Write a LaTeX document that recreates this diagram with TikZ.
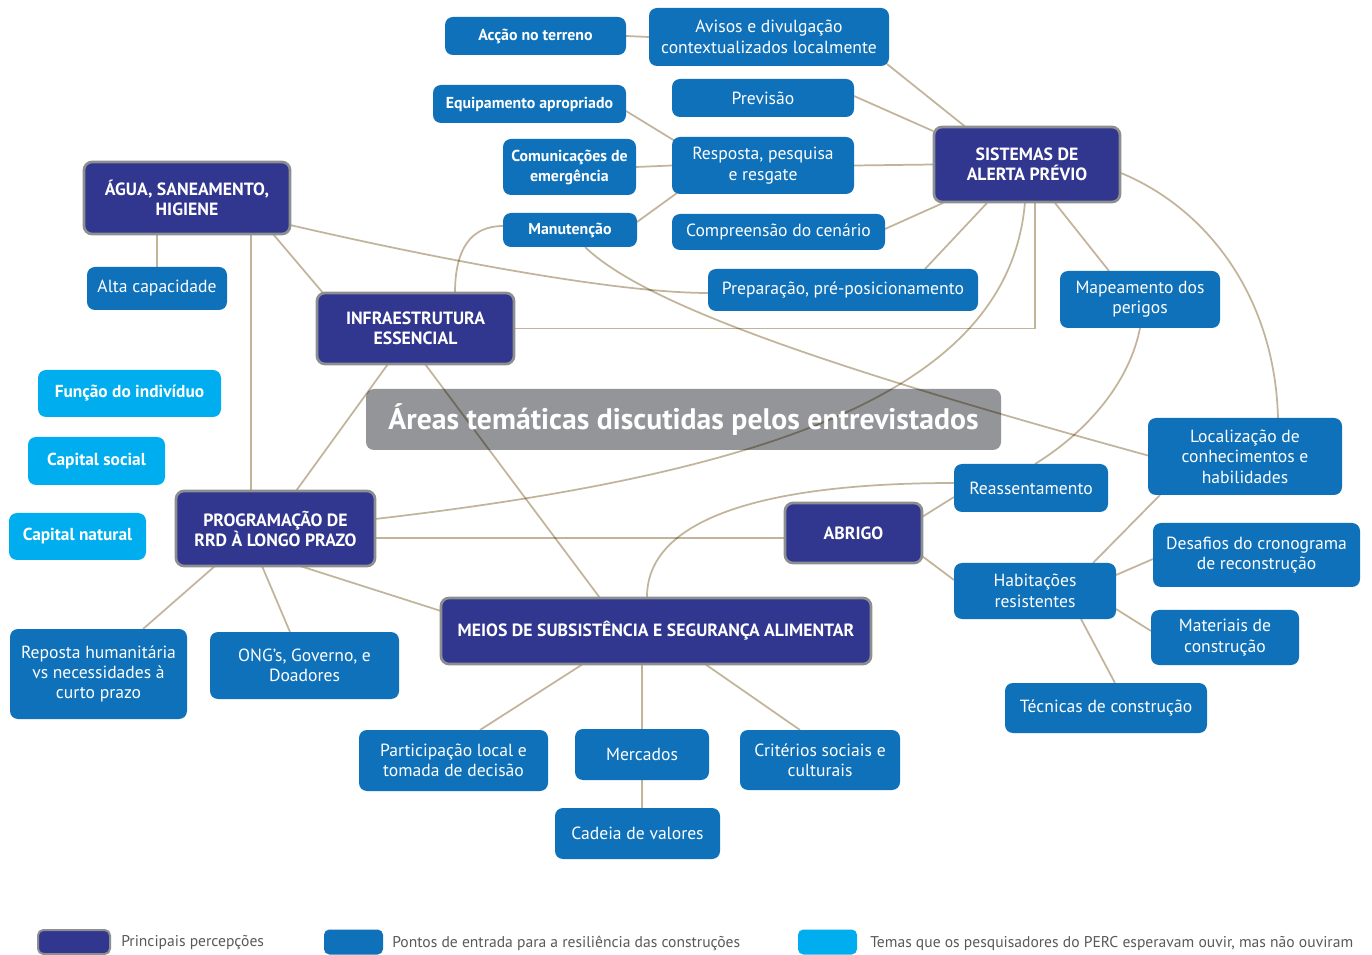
\documentclass[tikz,border=0pt]{standalone}
\usepackage{fontspec}
\setmainfont{PT Sans}
\usetikzlibrary{calc}
\definecolor{dark}{HTML}{31368F}
\definecolor{bord}{HTML}{8D8E90}
\definecolor{blueone}{HTML}{0E71B9}
\definecolor{lightb}{HTML}{00AEEF}
\definecolor{linec}{HTML}{C2B49A}
\definecolor{titleg}{HTML}{939598}
\definecolor{legtext}{HTML}{58595B}
\newcommand\fdk{\bfseries\fontsize{13.3}{15}\selectfont}
\newcommand\fbl{\fontsize{13.2}{15.3}\selectfont}
\newcommand\fbb{\bfseries\fontsize{11.9}{15}\selectfont}
\newcommand\flb{\bfseries\fontsize{13}{14}\selectfont}
\newcommand\fleg{\fontsize{11.7}{12}\selectfont}
\pgfdeclarelayer{back}
\pgfdeclarelayer{lines}
\pgfsetlayers{back,lines,main}
\tikzset{
  box/.style={rounded corners=6pt, inner sep=0pt, outer sep=0pt, align=center, text=white},
  dk/.style={box, fill=dark, draw=bord, line width=2pt, font=\fdk},
  bl/.style={box, fill=blueone, font=\fbl},
  bb/.style={box, fill=blueone, font=\fbb},
  lb/.style={box, fill=lightb, font=\flb},
  wh/.style 2 args={minimum width=#1*0.75pt, minimum height=#2*0.75pt},
  conn/.style={draw=linec, line width=1.3pt},
  legsw/.style={rounded corners=4pt, inner sep=0pt, outer sep=0pt},
  legtx/.style={anchor=west, inner sep=0pt, text=legtext, font=\fleg},
}
\begin{document}
\begin{tikzpicture}[x=0.75pt,y=-0.75pt]
\useasboundingbox (0,0) rectangle (1372,955);
% title box
\begin{pgfonlayer}{back}
\fill[white] (0,0) rectangle (1372,955);
\node[box, fill=titleg, wh={635}{61}] (title) at (683.5,419.5) {};
\end{pgfonlayer}
% nodes
\node[bb, wh={181}{38}] (acao) at (535.5,36) {Acção no terreno};
\node[bl, wh={240}{58}] (avisos) at (769,37) {Avisos e divulgação\\contextualizados localmente};
\node[bb, wh={193}{38}] (equip) at (529.5,104) {Equipamento apropriado};
\node[bl, wh={182}{38}] (previsao) at (763,98) {Previsão};
\node[bb, wh={133}{56}] (comun) at (569.5,167) {Comunicações de\\emergência};
\node[bl, wh={182}{57}] (resposta) at (763,165.5) {Resposta, pesquisa\\e resgate};
\node[bb, wh={134}{34}] (manut) at (570,230) {Manutenção};
\node[bl, wh={213}{36}] (compre) at (778.5,232) {Compreensão do cenário};
\node[dk, wh={186}{75}] (sistemas) at (1027,164.5) {SISTEMAS DE\\ALERTA PRÉVIO};
\node[dk, wh={206}{72}] (agua) at (187,198) {ÁGUA, SANEAMENTO,\\HIGIENE};
\node[bl, wh={140}{43}] (alta) at (157,288.5) {Alta capacidade};
\node[dk, wh={197}{71}] (infra) at (415.5,328.5) {INFRAESTRUTURA\\ESSENCIAL};
\node[bl, wh={270}{42}] (prep) at (843,290) {Preparação, pré-posicionamento};
\node[bl, wh={160}{57}] (mapa) at (1140,299.5) {Mapeamento dos\\perigos};
\node[lb, wh={183}{47}] (funcao) at (129.5,393.5) {Função do indivíduo};
\node[lb, wh={137}{48}] (capsoc) at (96.5,461) {Capital social};
\node[lb, wh={137}{47}] (capnat) at (77.5,536.5) {Capital natural};
\node[bl, wh={194}{77}] (local) at (1245,456.5) {Localização de\\conhecimentos e\\habilidades};
\node[bl, wh={154}{48}] (reass) at (1031,488) {Reassentamento};
\node[dk, wh={199}{75}] (prog) at (275.5,528.5) {PROGRAMAÇÃO DE\\RRD À LONGO PRAZO};
\node[dk, wh={137}{60}] (abrigo) at (853.5,533) {ABRIGO};
\node[bl, wh={207}{64}] (desaf) at (1256.5,555) {Desafios do cronograma\\de reconstrução};
\node[bl, wh={162}{56}] (habit) at (1035,591) {Habitações\\resistentes};
\node[dk, wh={430}{66}] (meios) at (656,631) {MEIOS DE SUBSISTÊNCIA E SEGURANÇA ALIMENTAR};
\node[bl, wh={148}{55}] (mater) at (1225,637.5) {Materiais de\\construção};
\node[bl, wh={202}{50}] (tecn) at (1106,708) {Técnicas de construção};
\node[bl, wh={177}{90}] (repo) at (98.5,674) {Reposta humanitária\\vs necessidades à\\curto prazo};
\node[bl, wh={189}{67}] (ong) at (304.5,665.5) {ONG’s, Governo, e\\Doadores};
\node[bl, wh={189}{61}] (partic) at (453.5,760.5) {Participação local e\\tomada de decisão};
\node[bl, wh={134}{51}] (merc) at (642,754.5) {Mercados};
\node[bl, wh={160}{60}] (crit) at (820,760) {Critérios sociais e\\culturais};
\node[bl, wh={165}{51}] (cadeia) at (637.5,833.5) {Cadeia de valores};
% title text
\node[text=white, font=\bfseries\fontsize{22.3}{26}\selectfont, inner sep=0pt] (titletext) at (title.center) {Áreas temáticas discutidas pelos entrevistados};
% connectors
\begin{pgfonlayer}{lines}
\begin{scope}[blend mode=multiply]
\draw[conn] (acao.east) -- (avisos.west);
\draw[conn] ([shift={(118,27)}]avisos.center) -- ([shift={(-62,-38)}]sistemas.center);
\draw[conn] ([shift={(91,-2)}]previsao.center) -- ([shift={(-94,-33.5)}]sistemas.center);
\draw[conn] (resposta.east) -- (sistemas.west);
\draw[conn] ([shift={(96.5,7)}]equip.center) -- ([shift={(-88,-24.5)}]resposta.center);
\draw[conn] (comun.east) -- (resposta.west);
\draw[conn] ([shift={(67,-8)}]manut.center) -- ([shift={(-86,27.5)}]resposta.center);
\draw[conn] ([shift={(106.5,-3)}]compre.center) -- ([shift={(-84,38.5)}]sistemas.center);
\draw[conn] ([shift={(82,-21)}]prep.center) -- ([shift={(-40,38.5)}]sistemas.center);
\draw[conn] ([shift={(-31,-28.5)}]mapa.center) -- ([shift={(28,38.5)}]sistemas.center);
\draw[conn] ([shift={(94,8.5)}]sistemas.center) .. controls (1210,210) and (1275,300) .. ([shift={(33,-38.5)}]local.center);
\draw[conn] ([shift={(8,0)}]sistemas.south) |- (infra.east);
\draw[conn] ([shift={(-2,0)}]sistemas.south) .. controls (1010,380) and (800,470) .. ([shift={(0,-9.5)}]prog.east);
\draw[conn] (agua.south -| alta.north) -- (alta.north);
\draw[conn] ([shift={(64,0)}]agua.south) -- ([shift={(-24.5,0)}]prog.north);
\draw[conn] ([shift={(86,0)}]agua.south) -- ([shift={(6,0)}]infra.north west);
\draw[conn] ([shift={(0,27)}]agua.east) .. controls (450,262) and (620,293) .. ([shift={(0,3)}]prep.west);
\draw[conn] ([shift={(39.5,0)}]infra.north) .. controls (455,250) and (470,226) .. ([shift={(0,-4)}]manut.west);
\draw[conn] ([shift={(15,0)}]manut.south) .. controls (640,300) and (800,360) .. ([shift={(0,-1)}]local.west);
\draw[conn] ([shift={(9.5,0)}]infra.south) -- ([shift={(-56,0)}]meios.north);
\draw[conn] ([shift={(-27.5,0)}]infra.south) -- ([shift={(20.5,0)}]prog.north);
\draw[conn] ([shift={(0,9.5)}]prog.east) -- ([shift={(0,5)}]abrigo.west);
\draw[conn] ([shift={(24.5,0)}]prog.south) -- ([shift={(0,-20)}]meios.west);
\draw[conn] ([shift={(-60.5,0)}]prog.south) -- ([shift={(44.5,0)}]repo.north);
\draw[conn] ([shift={(-13.5,0)}]prog.south) -- ([shift={(-14.5,0)}]ong.north);
\draw[conn] ([shift={(-9,0)}]meios.north) .. controls (646,520) and (760,483) .. ([shift={(0,-5)}]reass.west);
\draw[conn] ([shift={(0,-16)}]abrigo.east) -- ([shift={(0,9)}]reass.west);
\draw[conn] ([shift={(0,23)}]abrigo.east) -- ([shift={(0,-11)}]habit.west);
\draw[conn] ([shift={(58,0)}]habit.north) -- ([shift={(-85,0)}]local.south);
\draw[conn] ([shift={(0,-16)}]habit.east) -- ([shift={(0,4)}]desaf.west);
\draw[conn] ([shift={(0,18)}]habit.east) -- ([shift={(0,-6.5)}]mater.west);
\draw[conn] ([shift={(46,0)}]habit.south) -- ([shift={(9,0)}]tecn.north);
\draw[conn] (mapa.south) .. controls (1130,380) and (1090,430) .. ([shift={(4,0)}]reass.north);
\draw[conn] ([shift={(-73,0)}]meios.south) -- ([shift={(26.5,0)}]partic.north);
\draw[conn] (merc.north |- meios.south) -- (merc.north);
\draw[conn] ([shift={(49,0)}]meios.south) -- ([shift={(-20,0)}]crit.north);
\draw[conn] (merc.south) -- (merc.south |- cadeia.north);
\end{scope}
\end{pgfonlayer}
% legend
\node[legsw, fill=dark, draw=bord, line width=1.5pt, minimum width=72*0.75pt, minimum height=24*0.75pt] (lg1) at (74,942) {};
\node[legtx] (lt1) at (121,943) {Principais percepções};
\node[legsw, fill=blueone, minimum width=59*0.75pt, minimum height=25*0.75pt] (lg2) at (353.5,942) {};
\node[legtx] (lt2) at (392,943) {Pontos de entrada para a resiliência das construções};
\node[legsw, fill=lightb, minimum width=59*0.75pt, minimum height=25*0.75pt] (lg3) at (827.5,942) {};
\node[legtx] (lt3) at (870,943) {Temas que os pesquisadores do PERC esperavam ouvir, mas não ouviram};
\end{tikzpicture}
\end{document}
